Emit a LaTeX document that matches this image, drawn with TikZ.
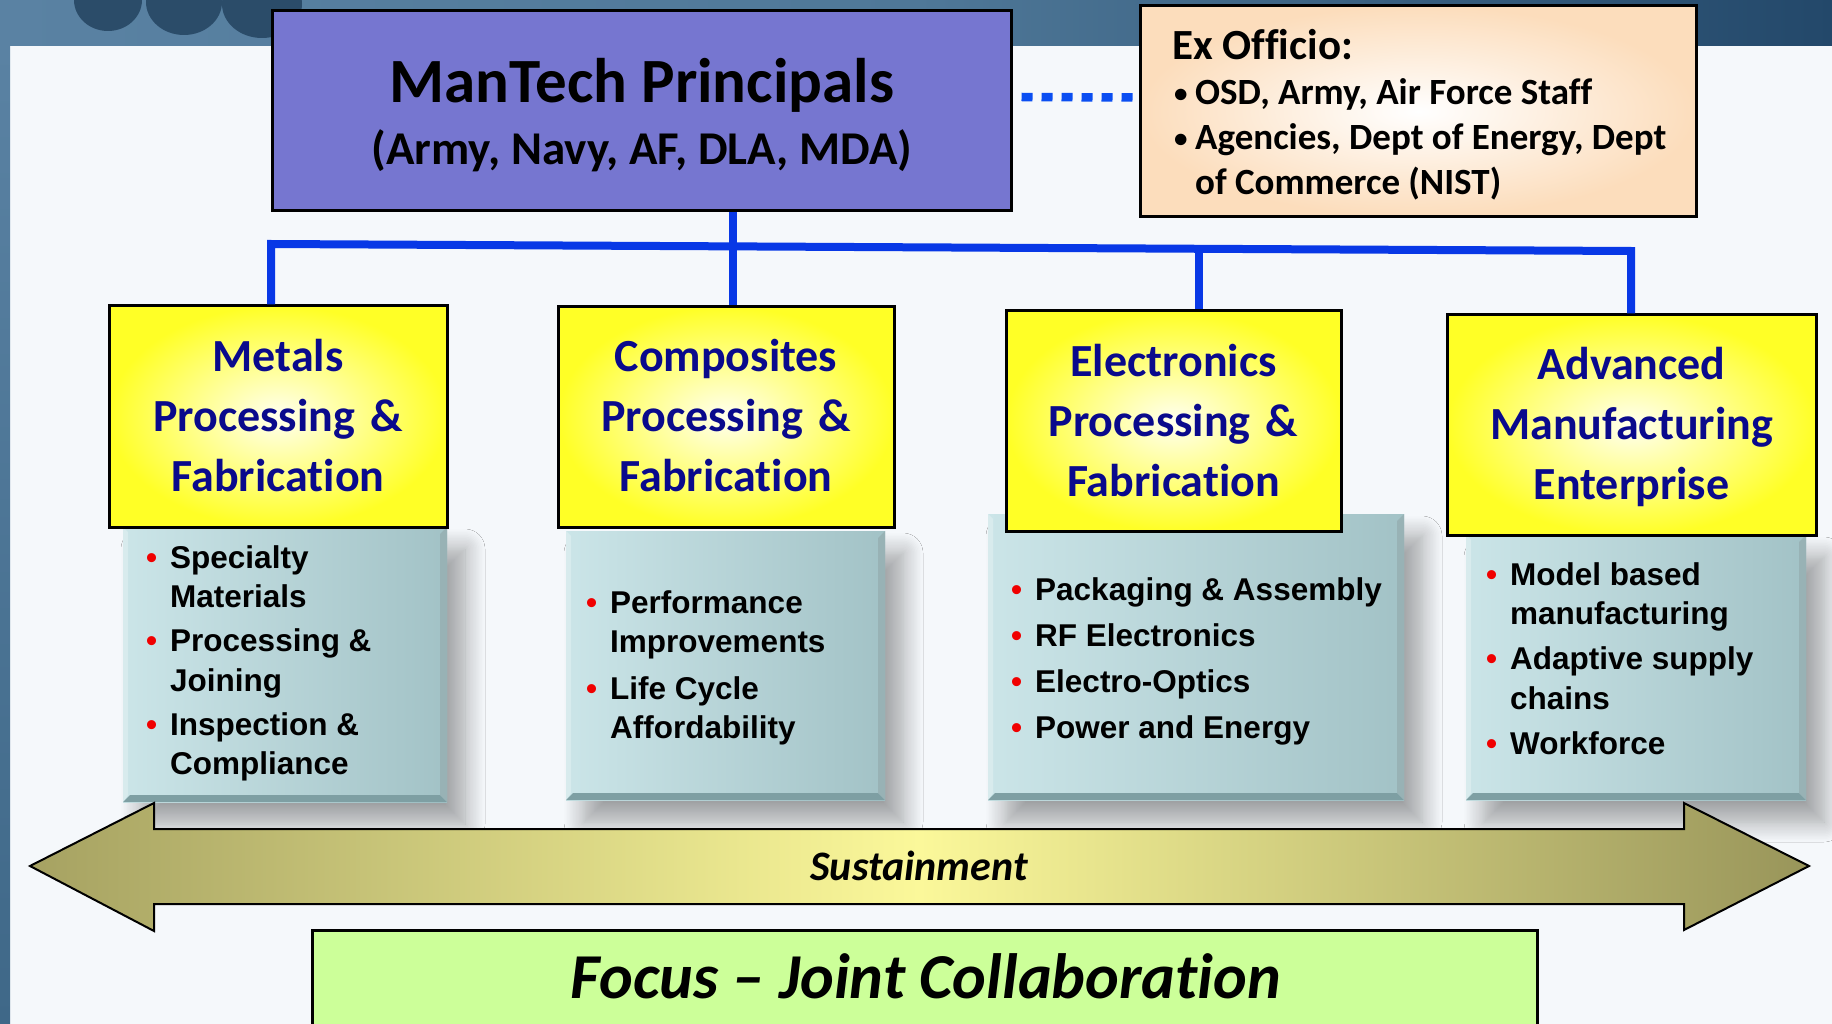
\documentclass[tikz,border=0pt]{standalone}
\usepackage{fontspec}
\setmainfont{Carlito}[Ligatures={TeX,NoCommon}]
\newfontfamily\arialfont{Liberation Sans}
\usetikzlibrary{positioning,calc,shadows.blur,fadings}

\definecolor{bandA}{HTML}{5A82A3}
\definecolor{bandB}{HTML}{4F7898}
\definecolor{bandC}{HTML}{23486A}
\definecolor{stripcol}{HTML}{3F6888}
\definecolor{pagecol}{HTML}{F5F8FB}
\definecolor{blobcol}{HTML}{2B4C69}
\definecolor{prinfill}{HTML}{7676D0}
\definecolor{peach}{HTML}{FCDDBC}
\definecolor{treeblue}{HTML}{0838E6}
\definecolor{dotblue}{HTML}{0A4EF2}
\definecolor{ylight}{HTML}{FFFFF0}
\definecolor{ydark}{HTML}{FFFF26}
\definecolor{navytext}{HTML}{0A0A8C}
\definecolor{teallight}{HTML}{CBE5E8}
\definecolor{tealdark}{HTML}{A2C2C6}
\definecolor{tealedge}{HTML}{7E9FA3}
\definecolor{bulred}{HTML}{F00000}
\definecolor{olivearr}{HTML}{A6A262}
\definecolor{palearr}{HTML}{FBF89A}
\definecolor{focusgreen}{HTML}{CCFF99}

\newcommand{\redbul}{\leavevmode\llap{\textcolor{bulred}{\textbullet}\hspace{13pt}}}
\newcommand{\exbul}{\leavevmode\makebox[23pt][l]{\hspace{2pt}\raisebox{2.5pt}{\fontsize{27pt}{27pt}\selectfont\textbullet}}}

\begin{document}
\begin{tikzpicture}[x=1pt,y=-1pt,
    prinbox/.style={draw=black, line width=3pt, fill=prinfill, inner sep=0pt},
    exbox/.style={draw=black, line width=3pt, inner color=white, outer color=peach, inner sep=0pt},
    ybox/.style={draw=black, line width=3pt, inner color=ylight, outer color=ydark, inner sep=0pt},
    tbox/.style={left color=teallight, right color=tealdark, inner sep=0pt,
      blur shadow={shadow xshift=18pt, shadow yshift=-22pt, shadow blur radius=20pt,
        shadow blur steps=14, shadow opacity=35},
      path picture={
        \fill[tealedge] (path picture bounding box.south west) -- (path picture bounding box.south east)
          -- ([shift={(-7pt,7pt)}]path picture bounding box.south east) -- ([shift={(7pt,7pt)}]path picture bounding box.south west) -- cycle;
        \fill[tealedge!80] (path picture bounding box.north east) -- (path picture bounding box.south east)
          -- ([shift={(-7pt,7pt)}]path picture bounding box.south east) -- ([shift={(-7pt,-7pt)}]path picture bounding box.north east) -- cycle;
        \fill[white,opacity=.25] (path picture bounding box.north west) -- (path picture bounding box.south west)
          -- ([shift={(5pt,7pt)}]path picture bounding box.south west) -- ([shift={(5pt,-5pt)}]path picture bounding box.north west) -- cycle;
      }},
    tree/.style={treeblue, line width=8pt},
    exline/.style={dotblue, line width=8.5pt, dash pattern=on 11pt off 9pt},
    htext/.style={anchor=base, text width=330pt, align=center, text=navytext,
      font=\bfseries\fontsize{46pt}{60pt}\selectfont},
    ltext/.style={anchor=base west, text width=400pt, align=flush left, inner sep=0pt,
      font=\arialfont\bfseries\fontsize{31.5pt}{39.5pt}\selectfont},
    sustarrow/.style={draw=black, line width=2pt, line join=miter,
      left color=olivearr, right color=olivearr!92!black, middle color=palearr},
    focusbox/.style={draw=black, line width=3pt, fill=focusgreen, inner sep=0pt}]
\useasboundingbox (0,0) rectangle (1832,1024);
% background
\fill[pagecol] (0,0) rectangle (1832,1024);
\shade[left color=bandA, right color=bandC, middle color=bandB] (0,0) rectangle (1832,46);
\shade[top color=bandA, bottom color=stripcol] (0,46) rectangle (10,1024);
\begin{scope}
  \clip (0,0) rectangle (1832,38);
  \fill[blobcol] (108,0) ellipse [x radius=34, y radius=31];
  \fill[blobcol] (184,2) ellipse [x radius=38, y radius=33];
  \fill[blobcol] (262,4) ellipse [x radius=40, y radius=34];
\end{scope}
%
\node[prinbox, minimum width=739pt, minimum height=200pt] (prin) at (641.5,111) {};
\node[exbox, minimum width=556pt, minimum height=211pt] (exo) at (1418,111.5) {};
\draw[exline] ([xshift=9pt,yshift=14pt]prin.east) -- ([yshift=14pt]exo.west);
%
\coordinate (barL) at (271,244);
\coordinate (barR) at (1631,251);
\coordinate (barE) at ($(barL)!0.682!(barR)$);
\coordinate (hub) at (733,246);
%
\node[tbox, minimum width=324pt, minimum height=275pt] (metals-l) at (285,664.5) {};
\node[tbox, minimum width=319pt, minimum height=269pt] (comp-l) at (725.5,665.5) {};
\node[tbox, minimum width=416pt, minimum height=286pt] (elec-l) at (1196,657) {};
\node[tbox, minimum width=340pt, minimum height=265pt] (adv-l) at (1636,667.5) {};
%
\node[ybox, minimum width=338pt, minimum height=221pt] (metals) at (278,416.5) {};
\node[ybox, minimum width=336pt, minimum height=220pt] (comp) at (726,417) {};
\node[ybox, minimum width=335pt, minimum height=220pt] (elec) at (1173.5,421) {};
\node[ybox, minimum width=369pt, minimum height=220pt] (adv) at (1631.5,425) {};
%
\draw[tree] (metals.north -| barL) -- (barL) -- (barR) -- (adv.north -| barR);
\draw[tree] (prin.south -| hub) -- (comp.north -| hub);
\draw[tree] (barE) -- (elec.north -| barE);
%
\node[anchor=base, font=\bfseries\fontsize{63pt}{63pt}\selectfont] (prin-t1) at (642,103) {ManTech Principals};
\node[anchor=base, font=\bfseries\fontsize{47pt}{47pt}\selectfont] (prin-t2) at (642,165) {(Army, Navy, AF, DLA, MDA)};
\node[anchor=base west, text width=560pt, align=flush left, inner sep=0pt,
  font=\bfseries\fontsize{37pt}{45pt}\selectfont] (exo-t) at (1172,60)
  {{\fontsize{43pt}{45pt}\selectfont Ex Officio:}\\\exbul OSD, Army, Air Force Staff\\\exbul Agencies, Dept of Energy, Dept\\\hspace*{23pt}of Commerce (NIST)};
%
\node[htext] (metals-t) at (278,372) {Metals\\Processing \&\\Fabrication};
\node[htext] (comp-t) at (726,372) {Composites\\Processing \&\\Fabrication};
\node[htext] (elec-t) at (1173.5,377) {Electronics\\Processing \&\\Fabrication};
\node[htext] (adv-t) at (1631.5,380) {Advanced\\Manufacturing\\Enterprise};
%
\node[ltext] (metals-i) at (170,568) {\redbul Specialty\\Materials\\[4.5pt]\redbul Processing \&\\Joining\\[4.5pt]\redbul Inspection \&\\Compliance};
\node[ltext] (comp-i) at (610,613) {\redbul Performance\\Improvements\\[7pt]\redbul Life Cycle\\Affordability};
\node[ltext] (elec-i) at (1035,600) {\redbul Packaging \& Assembly\\[6.5pt]\redbul RF Electronics\\[6.5pt]\redbul Electro-Optics\\[6.5pt]\redbul Power and Energy};
\node[ltext] (adv-i) at (1510,585) {\redbul Model based\\manufacturing\\[5.5pt]\redbul Adaptive supply\\chains\\[6pt]\redbul Workforce};
%
\draw[sustarrow] (30,866) -- (154,803) -- (154,829) -- (1684,829) -- (1684,803) -- (1809,866)
  -- (1684,930) -- (1684,904) -- (154,904) -- (154,931) -- cycle;
\node[anchor=base, font=\bfseries\itshape\fontsize{42pt}{42pt}\selectfont] (sust) at (919,880) {Sustainment};
%
\node[focusbox, minimum width=1225pt, minimum height=110pt] (focus) at (924.5,985) {};
\node[anchor=base, font=\bfseries\itshape\fontsize{64pt}{64pt}\selectfont] (focus-t) at (926,998) {Focus – Joint Collaboration};
\end{tikzpicture}
\end{document}
